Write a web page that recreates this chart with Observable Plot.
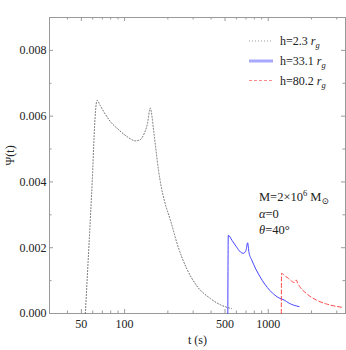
<!DOCTYPE html>
<html>
<head>
<meta charset="utf-8">
<script src="https://cdn.jsdelivr.net/npm/d3@7"></script>
<script src="https://cdn.jsdelivr.net/npm/@observablehq/plot@0.6"></script>
<style>
  html, body { margin: 0; padding: 0; background: #fff; }
  #wrap { position: relative; width: 346px; height: 350px; }
  #overlay { position: absolute; left: 0; top: 0; pointer-events: none; }
</style>
</head>
<body>
<div id="wrap"></div>
<script>
// h = 2.3 r_g (gray dotted)
const grayT = [53.3, 55.3, 57.7, 60, 60.9, 62.6, 64.3, 67.7, 71.5, 79.5, 90.8, 103.9, 118.7, 128, 135.5, 144.5, 150.9, 155, 159, 165, 172, 180, 190, 208, 237, 271, 318, 394, 462, 555];
const grayV = [0, 0.00132, 0.00285, 0.00437, 0.00508, 0.0061, 0.00648, 0.00632, 0.00614, 0.00584, 0.00559, 0.00538, 0.00525, 0.00528, 0.00543, 0.00579, 0.00625, 0.0060, 0.00559, 0.0050, 0.00437, 0.00385, 0.0034, 0.00285, 0.00200, 0.00136, 0.00084, 0.00046, 0.00027, 0.00015];
// h = 33.1 r_g (blue solid)
const blueT = [523, 527, 560, 600, 640, 670, 700, 718, 735, 767, 876, 1027, 1204, 1290, 1400, 1640];
const blueV = [0, 0.00238, 0.00222, 0.00203, 0.00187, 0.00183, 0.00192, 0.00215, 0.00185, 0.00163, 0.00112, 0.0007, 0.00046, 0.00041, 0.00031, 0.00021];
// h = 80.2 r_g (red dashed)
const redT = [1233, 1237, 1300, 1380, 1450, 1516, 1566, 1600, 1656, 1841, 2162, 2540, 3240];
const redV = [0, 0.00122, 0.00115, 0.00107, 0.00099, 0.00094, 0.00102, 0.00093, 0.00082, 0.00061, 0.00041, 0.00029, 0.00019];

const xMajor = [50, 100, 500, 1000];
const xMinor = [40, 60, 70, 80, 90, 200, 300, 400, 600, 700, 800, 900, 2000, 3000];
const yMajor = [0, 0.002, 0.004, 0.006, 0.008];
const yMinor = [0.001, 0.003, 0.005, 0.007];
const xDomain = [30, 3450];
const yDomain = [0, 0.009];

const legendLabels = ["h=2.3", "h=33.1", "h=80.2"];

const toRows = (T, V) => T.map((t, i) => ({t, v: V[i]}));
const gray = toRows(grayT, grayV);
const blue = toRows(blueT, blueV);
const red = toRows(redT, redV);

const W = 346, H = 350;
const mT = 17, mB = 37, mL = 49, mR = 1;
const innerH = H - mT - mB, innerW = W - mL - mR;
const frameColor = "#9a9a9a";

const chart = Plot.plot({
  width: W, height: H,
  marginTop: mT, marginBottom: mB, marginLeft: mL, marginRight: mR,
  style: {fontFamily: "'Liberation Serif', 'DejaVu Serif', serif", fontSize: "12px", color: "#222", background: "#fff"},
  x: {type: "log", domain: xDomain},
  y: {domain: yDomain},
  marks: [
    Plot.axisX({ticks: xMajor, tickSize: 0, tickPadding: 6, tickFormat: d => String(d), label: null}),
    Plot.axisY({ticks: yMajor, tickSize: 0, tickPadding: 3, tickFormat: d => d.toFixed(3), label: null}),
    Plot.tickX(xMajor, {x: d => d, insetTop: innerH - 4, stroke: frameColor}),
    Plot.tickX(xMinor, {x: d => d, insetTop: innerH - 2.5, stroke: frameColor}),
    Plot.tickX(xMajor, {x: d => d, insetBottom: innerH - 4, stroke: frameColor}),
    Plot.tickX(xMinor, {x: d => d, insetBottom: innerH - 2.5, stroke: frameColor}),
    Plot.tickY(yMajor, {y: d => d, insetRight: innerW - 4, stroke: frameColor}),
    Plot.tickY(yMinor, {y: d => d, insetRight: innerW - 2.5, stroke: frameColor}),
    Plot.tickY(yMajor, {y: d => d, insetLeft: innerW - 4, stroke: frameColor}),
    Plot.tickY(yMinor, {y: d => d, insetLeft: innerW - 2.5, stroke: frameColor}),
    Plot.frame({stroke: frameColor, strokeWidth: 1}),
    Plot.line(gray, {x: "t", y: "v", stroke: "#6e6e6e", strokeWidth: 1, strokeDasharray: "1,2", curve: "monotone-x"}),
    Plot.line(blue, {x: "t", y: "v", stroke: "#4545ff", strokeWidth: 1, curve: "monotone-x"}),
    Plot.line(red, {x: "t", y: "v", stroke: "#ff4646", strokeWidth: 1, strokeDasharray: "4,2.5", curve: "monotone-x"}),
    Plot.text(["t (s)"], {frameAnchor: "bottom", dy: 30, fontSize: 12, fill: "#222"}),
    Plot.text(["Ψ(t)"], {frameAnchor: "left", dx: -39, dy: 0, rotate: -90, fontSize: 12, fill: "#222"})
  ]
});

const wrap = document.getElementById("wrap");
wrap.appendChild(chart);

const ov = d3.create("svg").attr("id", "overlay").attr("width", W).attr("height", H)
  .style("font-family", "'Liberation Serif', 'DejaVu Serif', serif").style("font-size", "12px");

const legendStyles = [
  {stroke: "#9a9a9a", dash: "1,2", width: 1},
  {stroke: "#a8a8ff", dash: null, width: 3},
  {stroke: "#ff8a8a", dash: "3,2", width: 1}
];
const legY = [41, 61, 80.5];
legendLabels.forEach((lab, i) => {
  const s = legendStyles[i];
  const l = ov.append("line").attr("x1", 249).attr("x2", 273).attr("y1", legY[i]).attr("y2", legY[i])
    .attr("stroke", s.stroke).attr("stroke-width", s.width);
  if (s.dash) l.attr("stroke-dasharray", s.dash);
  const t = ov.append("text").attr("x", 280).attr("y", legY[i] + 4).attr("fill", "#222");
  t.append("tspan").text(lab + " ");
  t.append("tspan").attr("font-style", "italic").text("r");
  t.append("tspan").attr("font-style", "italic").attr("font-size", "8.5px").attr("dy", 3).text("g");
});

const a1 = ov.append("text").attr("x", 259).attr("y", 201).attr("fill", "#222").attr("font-size", "12.5px");
a1.append("tspan").text("M=2×10");
a1.append("tspan").attr("font-size", "8.5px").attr("dy", -5).text("6");
a1.append("tspan").attr("dy", 5).text(" M");
a1.append("tspan").attr("font-size", "9px").attr("dy", 3).text("⊙");
const a2 = ov.append("text").attr("x", 259).attr("y", 217.5).attr("fill", "#222").attr("font-size", "12.5px");
a2.append("tspan").attr("font-style", "italic").text("α");
a2.append("tspan").text("=0");
const a3 = ov.append("text").attr("x", 259).attr("y", 234).attr("fill", "#222").attr("font-size", "12.5px");
a3.append("tspan").attr("font-style", "italic").text("θ");
a3.append("tspan").text("=40°");

wrap.appendChild(ov.node());
</script>
</body>
</html>
